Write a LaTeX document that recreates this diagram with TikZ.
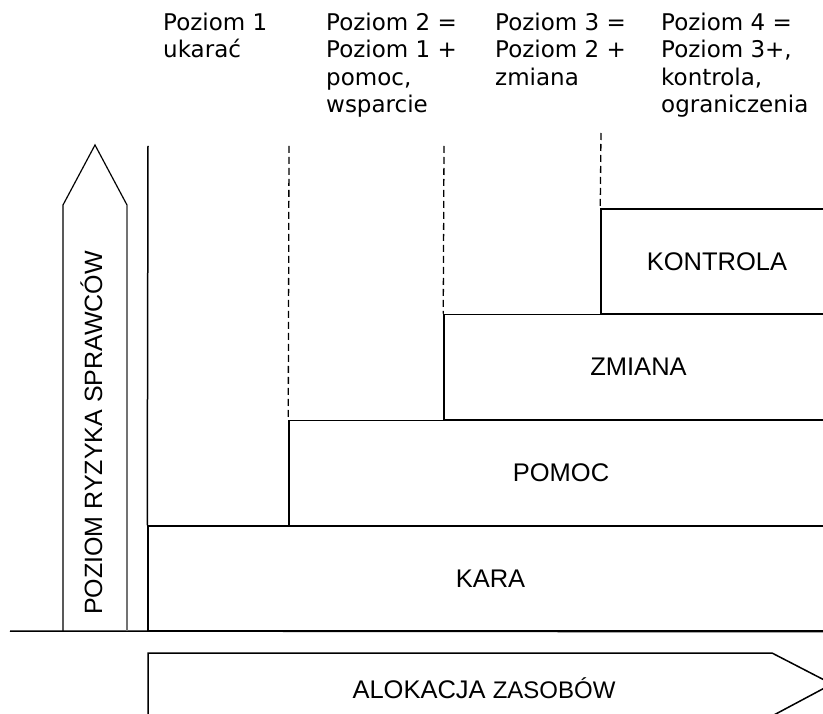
\documentclass[tikz,border=0pt]{standalone}
\usepackage{fontspec}
\setmainfont{Liberation Sans}
\newfontfamily\labelfont{DejaVu Sans}

\begin{document}
\begin{tikzpicture}[x=1pt,y=-1pt]
\tikzstyle{every node}+=[inner sep=0pt]
\tikzstyle{level}=[draw, line width=1.5pt, minimum height=105pt, font=\fontsize{25.5}{30}\selectfont]
\tikzstyle{toplabel}=[anchor=north west, align=left, font=\labelfont\fontsize{23}{27.5}\selectfont]
\tikzstyle{guide}=[line width=1.3pt, dash pattern=on 7pt off 4pt]
\useasboundingbox (0,0) rectangle (823,714);
% the four steps
\node[level, minimum width=685pt] (kara) at (490.5,578.5) {KARA};
\node[level, minimum width=544pt] (pomoc) at (561,473) {POMOC};
\node[level, minimum width=389pt] (zmiana) at (638.5,367) {ZMIANA};
\node[level, minimum width=232pt] (kontrola) at (717,261.5) {KONTROLA};
% level descriptions
\node[toplabel] (lvlA) at (163,12.5) {Poziom 1\\ukarać};
\node[toplabel] (lvlB) at (326,12.5) {Poziom 2 =\\Poziom 1 +\\pomoc,\\wsparcie};
\node[toplabel] (lvlC) at (495,12.5) {Poziom 3 =\\Poziom 2 +\\zmiana};
\node[toplabel] (lvlD) at (661,12.5) {Poziom 4 =\\Poziom 3+,\\kontrola,\\ograniczenia};
\coordinate (gB) at (289,146);
\coordinate (gC) at (444,146);
\coordinate (gD) at (601,133);
\draw[guide] (gB) -- (pomoc.north west);
\draw[guide] (gC) -- (zmiana.north west);
\draw[guide] (gD) -- (kontrola.north west);
% axes
\coordinate (axtop) at (148,146);
\coordinate (ground) at (10,631);
\draw[line width=1.5pt] (axtop) -- (kara.north west);
\draw[line width=1.5pt] (ground) -- (kara.south east);
% risk arrow
\draw[line width=1.2pt] (63,631) -- (63,205) -- (95,145) -- (127,205);
\draw[line width=1.2pt, black!55] (127,205) -- (127,631);
\node[anchor=base, rotate=90, font=\fontsize{25}{30}\selectfont] (risk) at (102,433) {POZIOM RYZYKA SPRAWCÓW};
% resources arrow
\draw[line width=1.5pt] (148,716) -- (148,653) -- (772,653) -- (832,684) -- (772,716);
\node[anchor=base, font=\fontsize{25.5}{28}\selectfont] (alloc) at (484,698) {ALOKACJA {\fontsize{24}{26}\selectfont ZASOBÓW}};
\end{tikzpicture}
\end{document}
